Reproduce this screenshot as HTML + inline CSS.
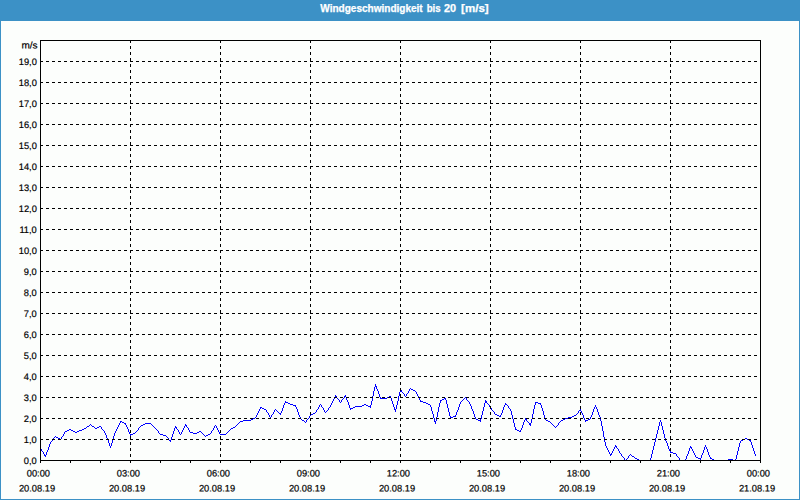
<!DOCTYPE html>
<html><head><meta charset="utf-8"><title>Windgeschwindigkeit</title>
<style>
html,body{margin:0;padding:0;background:#fcfefc;}
body{width:800px;height:500px;overflow:hidden;position:relative;font-family:"Liberation Sans",sans-serif;}
#frame{position:absolute;left:0;top:0;width:798px;height:478px;border:1px solid #3c91c6;border-top:21px solid #3c91c6;background:#fcfefc;}
svg{position:absolute;left:0;top:0;}
svg .ttl text{fill:#fff;stroke:#fff;stroke-width:0.25px;font-weight:bold;}
svg text{font-family:"Liberation Sans",sans-serif;font-size:10px;fill:#000;stroke:#000;stroke-width:0.2px;}
</style></head><body>
<div id="frame"></div>
<svg width="800" height="500" viewBox="0 0 800 500">
<path fill="#0000ff" shape-rendering="crispEdges" d="M40 448h1v1h-1zM41 449h1v2h-1zM42 451h1v1h-1zM43 452h1v2h-1zM44 454h1v2h-1zM45 455h1v2h-1zM46 452h1v3h-1zM47 450h1v2h-1zM48 447h1v3h-1zM49 444h1v3h-1zM50 442h1v2h-1zM51 441h1v1h-1zM52 440h1v1h-1zM53 438h1v2h-1zM54 437h1v1h-1zM55 436h1v1h-1zM56 437h1v1h-1zM57 437h1v1h-1zM58 438h1v1h-1zM59 438h1v1h-1zM60 439h1v1h-1zM61 437h1v2h-1zM62 436h1v1h-1zM63 434h1v2h-1zM64 432h1v2h-1zM65 431h1v1h-1zM66 431h1v1h-1zM67 430h1v1h-1zM68 430h1v1h-1zM69 429h1v1h-1zM70 429h1v1h-1zM71 430h1v1h-1zM72 430h1v1h-1zM73 431h1v1h-1zM74 431h1v1h-1zM75 432h1v1h-1zM76 432h1v1h-1zM77 431h1v1h-1zM78 431h1v1h-1zM79 430h1v1h-1zM80 430h1v1h-1zM81 430h1v1h-1zM82 429h1v1h-1zM83 429h1v1h-1zM84 428h1v1h-1zM85 428h1v1h-1zM86 427h1v1h-1zM87 426h1v1h-1zM88 426h1v1h-1zM89 425h1v1h-1zM90 424h1v1h-1zM91 425h1v1h-1zM92 426h1v1h-1zM93 426h1v1h-1zM94 427h1v1h-1zM95 428h1v1h-1zM96 428h1v1h-1zM97 427h1v1h-1zM98 427h1v1h-1zM99 426h1v1h-1zM100 426h1v1h-1zM101 427h1v2h-1zM102 429h1v1h-1zM103 430h1v1h-1zM104 431h1v2h-1zM105 433h1v2h-1zM106 435h1v3h-1zM107 438h1v2h-1zM108 440h1v3h-1zM109 443h1v3h-1zM110 446h1v2h-1zM111 443h1v3h-1zM112 440h1v3h-1zM113 436h1v4h-1zM114 433h1v3h-1zM115 431h1v2h-1zM116 429h1v2h-1zM117 427h1v2h-1zM118 425h1v2h-1zM119 423h1v2h-1zM120 421h1v2h-1zM121 421h1v1h-1zM122 422h1v1h-1zM123 422h1v1h-1zM124 423h1v1h-1zM125 423h1v2h-1zM126 425h1v2h-1zM127 427h1v2h-1zM128 429h1v3h-1zM129 432h1v2h-1zM130 434h1v2h-1zM131 434h1v1h-1zM132 434h1v1h-1zM133 433h1v1h-1zM134 433h1v1h-1zM135 432h1v1h-1zM136 431h1v1h-1zM137 430h1v1h-1zM138 428h1v2h-1zM139 427h1v1h-1zM140 426h1v1h-1zM141 425h1v1h-1zM142 425h1v1h-1zM143 424h1v1h-1zM144 424h1v1h-1zM145 423h1v1h-1zM146 423h1v1h-1zM147 423h1v1h-1zM148 423h1v1h-1zM149 423h1v1h-1zM150 423h1v1h-1zM151 424h1v1h-1zM152 425h1v1h-1zM153 426h1v1h-1zM154 427h1v1h-1zM155 428h1v1h-1zM156 429h1v1h-1zM157 430h1v1h-1zM158 431h1v2h-1zM159 433h1v1h-1zM160 434h1v1h-1zM161 434h1v1h-1zM162 434h1v1h-1zM163 435h1v1h-1zM164 435h1v1h-1zM165 435h1v1h-1zM166 436h1v1h-1zM167 437h1v1h-1zM168 438h1v2h-1zM169 440h1v1h-1zM170 440h1v2h-1zM171 437h1v3h-1zM172 434h1v3h-1zM173 431h1v3h-1zM174 428h1v3h-1zM175 426h1v2h-1zM176 427h1v2h-1zM177 429h1v1h-1zM178 430h1v2h-1zM179 432h1v2h-1zM180 434h1v1h-1zM181 432h1v2h-1zM182 430h1v2h-1zM183 428h1v2h-1zM184 426h1v2h-1zM185 424h1v2h-1zM186 425h1v2h-1zM187 427h1v1h-1zM188 428h1v2h-1zM189 430h1v2h-1zM190 432h1v1h-1zM191 432h1v1h-1zM192 432h1v1h-1zM193 433h1v1h-1zM194 433h1v1h-1zM195 433h1v1h-1zM196 433h1v1h-1zM197 432h1v1h-1zM198 432h1v1h-1zM199 431h1v1h-1zM200 431h1v1h-1zM201 432h1v1h-1zM202 433h1v1h-1zM203 434h1v1h-1zM204 435h1v1h-1zM205 436h1v1h-1zM206 435h1v1h-1zM207 435h1v1h-1zM208 434h1v1h-1zM209 434h1v1h-1zM210 433h1v1h-1zM211 431h1v2h-1zM212 430h1v1h-1zM213 428h1v2h-1zM214 426h1v2h-1zM215 425h1v1h-1zM216 426h1v2h-1zM217 428h1v2h-1zM218 430h1v2h-1zM219 432h1v2h-1zM220 434h1v1h-1zM221 434h1v1h-1zM222 434h1v1h-1zM223 434h1v1h-1zM224 434h1v1h-1zM225 434h1v1h-1zM226 433h1v1h-1zM227 432h1v1h-1zM228 431h1v1h-1zM229 430h1v1h-1zM230 429h1v1h-1zM231 428h1v1h-1zM232 428h1v1h-1zM233 427h1v1h-1zM234 427h1v1h-1zM235 426h1v1h-1zM236 425h1v1h-1zM237 424h1v1h-1zM238 423h1v1h-1zM239 422h1v1h-1zM240 421h1v1h-1zM241 421h1v1h-1zM242 421h1v1h-1zM243 420h1v1h-1zM244 420h1v1h-1zM245 420h1v1h-1zM246 420h1v1h-1zM247 420h1v1h-1zM248 420h1v1h-1zM249 420h1v1h-1zM250 420h1v1h-1zM251 419h1v1h-1zM252 419h1v1h-1zM253 418h1v1h-1zM254 418h1v1h-1zM255 417h1v1h-1zM256 415h1v2h-1zM257 413h1v2h-1zM258 411h1v2h-1zM259 409h1v2h-1zM260 407h1v2h-1zM261 407h1v1h-1zM262 408h1v1h-1zM263 408h1v1h-1zM264 409h1v1h-1zM265 409h1v1h-1zM266 410h1v2h-1zM267 412h1v1h-1zM268 413h1v2h-1zM269 415h1v2h-1zM270 417h1v1h-1zM271 415h1v2h-1zM272 414h1v1h-1zM273 412h1v2h-1zM274 410h1v2h-1zM275 409h1v1h-1zM276 410h1v1h-1zM277 411h1v1h-1zM278 412h1v1h-1zM279 413h1v1h-1zM280 413h1v2h-1zM281 411h1v2h-1zM282 408h1v3h-1zM283 405h1v3h-1zM284 403h1v2h-1zM285 401h1v2h-1zM286 402h1v1h-1zM287 402h1v1h-1zM288 403h1v1h-1zM289 403h1v1h-1zM290 404h1v1h-1zM291 404h1v1h-1zM292 404h1v1h-1zM293 405h1v1h-1zM294 405h1v1h-1zM295 405h1v2h-1zM296 407h1v2h-1zM297 409h1v3h-1zM298 412h1v3h-1zM299 415h1v2h-1zM300 417h1v2h-1zM301 419h1v1h-1zM302 420h1v1h-1zM303 420h1v1h-1zM304 421h1v1h-1zM305 422h1v1h-1zM306 420h1v2h-1zM307 419h1v1h-1zM308 418h1v1h-1zM309 416h1v2h-1zM310 415h1v1h-1zM311 414h1v1h-1zM312 414h1v1h-1zM313 413h1v1h-1zM314 413h1v1h-1zM315 412h1v1h-1zM316 410h1v2h-1zM317 409h1v1h-1zM318 407h1v2h-1zM319 405h1v2h-1zM320 404h1v1h-1zM321 405h1v2h-1zM322 407h1v1h-1zM323 408h1v2h-1zM324 410h1v2h-1zM325 412h1v1h-1zM326 411h1v1h-1zM327 410h1v1h-1zM328 408h1v2h-1zM329 407h1v1h-1zM330 405h1v2h-1zM331 403h1v2h-1zM332 401h1v2h-1zM333 399h1v2h-1zM334 397h1v2h-1zM335 395h1v2h-1zM336 396h1v2h-1zM337 398h1v1h-1zM338 399h1v1h-1zM339 400h1v2h-1zM340 402h1v1h-1zM341 400h1v2h-1zM342 399h1v1h-1zM343 398h1v1h-1zM344 396h1v2h-1zM345 395h1v2h-1zM346 397h1v3h-1zM347 400h1v2h-1zM348 402h1v3h-1zM349 405h1v3h-1zM350 408h1v2h-1zM351 408h1v1h-1zM352 408h1v1h-1zM353 407h1v1h-1zM354 407h1v1h-1zM355 406h1v1h-1zM356 406h1v1h-1zM357 406h1v1h-1zM358 406h1v1h-1zM359 406h1v1h-1zM360 406h1v1h-1zM361 406h1v1h-1zM362 405h1v1h-1zM363 405h1v1h-1zM364 404h1v1h-1zM365 404h1v1h-1zM366 405h1v1h-1zM367 405h1v1h-1zM368 406h1v1h-1zM369 406h1v1h-1zM370 405h1v3h-1zM371 401h1v4h-1zM372 396h1v5h-1zM373 391h1v5h-1zM374 387h1v4h-1zM375 384h1v3h-1zM376 386h1v3h-1zM377 389h1v2h-1zM378 391h1v3h-1zM379 394h1v3h-1zM380 397h1v2h-1zM381 398h1v1h-1zM382 398h1v1h-1zM383 398h1v1h-1zM384 398h1v1h-1zM385 398h1v1h-1zM386 398h1v1h-1zM387 397h1v1h-1zM388 397h1v1h-1zM389 396h1v1h-1zM390 396h1v2h-1zM391 398h1v3h-1zM392 401h1v3h-1zM393 404h1v3h-1zM394 407h1v3h-1zM395 409h1v3h-1zM396 405h1v4h-1zM397 401h1v4h-1zM398 396h1v5h-1zM399 392h1v4h-1zM400 389h1v3h-1zM401 390h1v2h-1zM402 392h1v1h-1zM403 393h1v1h-1zM404 394h1v2h-1zM405 396h1v1h-1zM406 394h1v2h-1zM407 393h1v1h-1zM408 391h1v2h-1zM409 389h1v2h-1zM410 388h1v1h-1zM411 389h1v1h-1zM412 389h1v1h-1zM413 390h1v1h-1zM414 390h1v1h-1zM415 391h1v1h-1zM416 392h1v2h-1zM417 394h1v2h-1zM418 396h1v2h-1zM419 398h1v2h-1zM420 400h1v2h-1zM421 401h1v1h-1zM422 401h1v1h-1zM423 402h1v1h-1zM424 402h1v1h-1zM425 402h1v1h-1zM426 403h1v1h-1zM427 403h1v1h-1zM428 404h1v1h-1zM429 404h1v1h-1zM430 405h1v2h-1zM431 407h1v4h-1zM432 411h1v3h-1zM433 414h1v4h-1zM434 418h1v4h-1zM435 421h1v3h-1zM436 417h1v4h-1zM437 412h1v5h-1zM438 407h1v5h-1zM439 403h1v4h-1zM440 400h1v3h-1zM441 400h1v1h-1zM442 399h1v1h-1zM443 399h1v1h-1zM444 398h1v1h-1zM445 398h1v2h-1zM446 400h1v4h-1zM447 404h1v4h-1zM448 408h1v4h-1zM449 412h1v4h-1zM450 416h1v2h-1zM451 417h1v1h-1zM452 417h1v1h-1zM453 416h1v1h-1zM454 416h1v1h-1zM455 415h1v2h-1zM456 412h1v3h-1zM457 410h1v2h-1zM458 407h1v3h-1zM459 404h1v3h-1zM460 402h1v2h-1zM461 401h1v1h-1zM462 400h1v1h-1zM463 399h1v1h-1zM464 398h1v1h-1zM465 397h1v1h-1zM466 398h1v2h-1zM467 400h1v1h-1zM468 401h1v1h-1zM469 402h1v2h-1zM470 404h1v2h-1zM471 406h1v3h-1zM472 409h1v2h-1zM473 411h1v3h-1zM474 414h1v3h-1zM475 417h1v2h-1zM476 419h1v1h-1zM477 419h1v1h-1zM478 420h1v1h-1zM479 420h1v1h-1zM480 419h1v3h-1zM481 415h1v4h-1zM482 411h1v4h-1zM483 407h1v4h-1zM484 403h1v4h-1zM485 400h1v3h-1zM486 401h1v2h-1zM487 403h1v1h-1zM488 404h1v1h-1zM489 405h1v2h-1zM490 407h1v1h-1zM491 408h1v2h-1zM492 410h1v1h-1zM493 411h1v1h-1zM494 412h1v2h-1zM495 414h1v1h-1zM496 414h1v1h-1zM497 415h1v1h-1zM498 415h1v1h-1zM499 416h1v1h-1zM500 415h1v2h-1zM501 413h1v2h-1zM502 410h1v3h-1zM503 407h1v3h-1zM504 405h1v2h-1zM505 403h1v2h-1zM506 404h1v1h-1zM507 405h1v1h-1zM508 406h1v2h-1zM509 408h1v1h-1zM510 409h1v2h-1zM511 411h1v4h-1zM512 415h1v4h-1zM513 419h1v4h-1zM514 423h1v4h-1zM515 427h1v3h-1zM516 429h1v1h-1zM517 430h1v1h-1zM518 430h1v1h-1zM519 431h1v1h-1zM520 430h1v2h-1zM521 428h1v2h-1zM522 425h1v3h-1zM523 422h1v3h-1zM524 420h1v2h-1zM525 418h1v2h-1zM526 419h1v2h-1zM527 421h1v1h-1zM528 422h1v1h-1zM529 423h1v2h-1zM530 423h1v3h-1zM531 419h1v4h-1zM532 414h1v5h-1zM533 409h1v5h-1zM534 405h1v4h-1zM535 402h1v3h-1zM536 402h1v1h-1zM537 402h1v1h-1zM538 403h1v1h-1zM539 403h1v1h-1zM540 403h1v2h-1zM541 405h1v3h-1zM542 408h1v3h-1zM543 411h1v4h-1zM544 415h1v3h-1zM545 418h1v2h-1zM546 420h1v1h-1zM547 420h1v1h-1zM548 421h1v1h-1zM549 421h1v1h-1zM550 422h1v1h-1zM551 423h1v1h-1zM552 424h1v1h-1zM553 425h1v1h-1zM554 426h1v1h-1zM555 427h1v1h-1zM556 426h1v1h-1zM557 425h1v1h-1zM558 423h1v2h-1zM559 422h1v1h-1zM560 421h1v1h-1zM561 420h1v1h-1zM562 420h1v1h-1zM563 419h1v1h-1zM564 419h1v1h-1zM565 418h1v1h-1zM566 418h1v1h-1zM567 418h1v1h-1zM568 417h1v1h-1zM569 417h1v1h-1zM570 417h1v1h-1zM571 417h1v1h-1zM572 416h1v1h-1zM573 416h1v1h-1zM574 415h1v1h-1zM575 415h1v1h-1zM576 414h1v1h-1zM577 413h1v1h-1zM578 411h1v2h-1zM579 410h1v1h-1zM580 409h1v2h-1zM581 411h1v2h-1zM582 413h1v2h-1zM583 415h1v3h-1zM584 418h1v2h-1zM585 420h1v2h-1zM586 420h1v1h-1zM587 420h1v1h-1zM588 419h1v1h-1zM589 419h1v1h-1zM590 417h1v2h-1zM591 415h1v2h-1zM592 412h1v3h-1zM593 409h1v3h-1zM594 407h1v2h-1zM595 405h1v2h-1zM596 407h1v2h-1zM597 409h1v3h-1zM598 412h1v3h-1zM599 415h1v2h-1zM600 417h1v4h-1zM601 421h1v5h-1zM602 426h1v5h-1zM603 431h1v6h-1zM604 437h1v5h-1zM605 442h1v4h-1zM606 446h1v2h-1zM607 448h1v2h-1zM608 450h1v2h-1zM609 452h1v2h-1zM610 454h1v2h-1zM611 453h1v2h-1zM612 451h1v2h-1zM613 449h1v2h-1zM614 447h1v2h-1zM615 445h1v2h-1zM616 446h1v2h-1zM617 448h1v1h-1zM618 449h1v2h-1zM619 451h1v2h-1zM620 453h1v1h-1zM621 454h1v2h-1zM622 456h1v1h-1zM623 457h1v1h-1zM624 458h1v2h-1zM625 460h1v1h-1zM626 459h1v1h-1zM627 458h1v1h-1zM628 456h1v2h-1zM629 455h1v1h-1zM630 454h1v1h-1zM631 455h1v1h-1zM632 456h1v1h-1zM633 456h1v1h-1zM634 457h1v1h-1zM635 458h1v1h-1zM636 458h1v1h-1zM637 459h1v1h-1zM638 459h1v1h-1zM639 460h1v1h-1zM640 460h1v1h-1zM641 460h1v1h-1zM642 460h1v1h-1zM643 460h1v1h-1zM644 460h1v1h-1zM645 460h1v1h-1zM646 460h1v1h-1zM647 460h1v1h-1zM648 460h1v1h-1zM649 460h1v1h-1zM650 458h1v3h-1zM651 454h1v4h-1zM652 450h1v4h-1zM653 446h1v4h-1zM654 442h1v4h-1zM655 438h1v4h-1zM656 434h1v4h-1zM657 430h1v4h-1zM658 426h1v4h-1zM659 422h1v4h-1zM660 420h1v2h-1zM661 422h1v4h-1zM662 426h1v4h-1zM663 430h1v4h-1zM664 434h1v4h-1zM665 438h1v3h-1zM666 441h1v2h-1zM667 443h1v3h-1zM668 446h1v3h-1zM669 449h1v2h-1zM670 451h1v2h-1zM671 452h1v1h-1zM672 452h1v1h-1zM673 453h1v1h-1zM674 453h1v1h-1zM675 453h1v1h-1zM676 454h1v2h-1zM677 456h1v1h-1zM678 457h1v1h-1zM679 458h1v2h-1zM680 460h1v1h-1zM681 460h1v1h-1zM682 460h1v1h-1zM683 460h1v1h-1zM684 460h1v1h-1zM685 459h1v2h-1zM686 456h1v3h-1zM687 454h1v2h-1zM688 451h1v3h-1zM689 448h1v3h-1zM690 446h1v2h-1zM691 447h1v2h-1zM692 449h1v2h-1zM693 451h1v2h-1zM694 453h1v2h-1zM695 455h1v2h-1zM696 457h1v1h-1zM697 457h1v1h-1zM698 458h1v1h-1zM699 458h1v1h-1zM700 458h1v2h-1zM701 455h1v3h-1zM702 453h1v2h-1zM703 450h1v3h-1zM704 447h1v3h-1zM705 445h1v2h-1zM706 447h1v2h-1zM707 449h1v3h-1zM708 452h1v3h-1zM709 455h1v2h-1zM710 457h1v2h-1zM711 458h1v1h-1zM712 459h1v1h-1zM713 459h1v1h-1zM714 460h1v1h-1zM715 460h1v1h-1zM716 460h1v1h-1zM717 460h1v1h-1zM718 460h1v1h-1zM719 460h1v1h-1zM720 460h1v1h-1zM721 460h1v1h-1zM722 460h1v1h-1zM723 460h1v1h-1zM724 460h1v1h-1zM725 460h1v1h-1zM726 460h1v1h-1zM727 460h1v1h-1zM728 459h1v1h-1zM729 459h1v1h-1zM730 459h1v1h-1zM731 459h1v1h-1zM732 459h1v1h-1zM733 460h1v1h-1zM734 460h1v1h-1zM735 459h1v2h-1zM736 455h1v4h-1zM737 451h1v4h-1zM738 447h1v4h-1zM739 443h1v4h-1zM740 441h1v2h-1zM741 440h1v1h-1zM742 440h1v1h-1zM743 439h1v1h-1zM744 439h1v1h-1zM745 438h1v1h-1zM746 438h1v1h-1zM747 439h1v1h-1zM748 439h1v1h-1zM749 440h1v1h-1zM750 440h1v2h-1zM751 442h1v3h-1zM752 445h1v3h-1zM753 448h1v3h-1zM754 451h1v3h-1zM755 454h1v2h-1z"/>
<g stroke="#000" stroke-width="1" stroke-dasharray="3,3" shape-rendering="crispEdges" fill="none">
<line x1="40" y1="439.5" x2="760" y2="439.5"/>
<line x1="40" y1="418.5" x2="760" y2="418.5"/>
<line x1="40" y1="397.5" x2="760" y2="397.5"/>
<line x1="40" y1="376.5" x2="760" y2="376.5"/>
<line x1="40" y1="355.5" x2="760" y2="355.5"/>
<line x1="40" y1="334.5" x2="760" y2="334.5"/>
<line x1="40" y1="313.5" x2="760" y2="313.5"/>
<line x1="40" y1="292.5" x2="760" y2="292.5"/>
<line x1="40" y1="271.5" x2="760" y2="271.5"/>
<line x1="40" y1="250.5" x2="760" y2="250.5"/>
<line x1="40" y1="229.5" x2="760" y2="229.5"/>
<line x1="40" y1="208.5" x2="760" y2="208.5"/>
<line x1="40" y1="187.5" x2="760" y2="187.5"/>
<line x1="40" y1="166.5" x2="760" y2="166.5"/>
<line x1="40" y1="145.5" x2="760" y2="145.5"/>
<line x1="40" y1="124.5" x2="760" y2="124.5"/>
<line x1="40" y1="103.5" x2="760" y2="103.5"/>
<line x1="40" y1="82.5" x2="760" y2="82.5"/>
<line x1="40" y1="61.5" x2="760" y2="61.5"/>
<line x1="130.5" y1="40" x2="130.5" y2="460"/>
<line x1="220.5" y1="40" x2="220.5" y2="460"/>
<line x1="310.5" y1="40" x2="310.5" y2="460"/>
<line x1="400.5" y1="40" x2="400.5" y2="460"/>
<line x1="490.5" y1="40" x2="490.5" y2="460"/>
<line x1="580.5" y1="40" x2="580.5" y2="460"/>
<line x1="670.5" y1="40" x2="670.5" y2="460"/>
</g>
<rect x="40.5" y="40.5" width="720" height="420" fill="none" stroke="#000" stroke-width="1" shape-rendering="crispEdges"/>
<g fill="#000" shape-rendering="crispEdges">
<rect x="40" y="460" width="1" height="3"/>
<rect x="70" y="460" width="1" height="3"/>
<rect x="100" y="460" width="1" height="3"/>
<rect x="130" y="460" width="1" height="3"/>
<rect x="160" y="460" width="1" height="3"/>
<rect x="190" y="460" width="1" height="3"/>
<rect x="220" y="460" width="1" height="3"/>
<rect x="250" y="460" width="1" height="3"/>
<rect x="280" y="460" width="1" height="3"/>
<rect x="310" y="460" width="1" height="3"/>
<rect x="340" y="460" width="1" height="3"/>
<rect x="370" y="460" width="1" height="3"/>
<rect x="400" y="460" width="1" height="3"/>
<rect x="430" y="460" width="1" height="3"/>
<rect x="460" y="460" width="1" height="3"/>
<rect x="490" y="460" width="1" height="3"/>
<rect x="520" y="460" width="1" height="3"/>
<rect x="550" y="460" width="1" height="3"/>
<rect x="580" y="460" width="1" height="3"/>
<rect x="610" y="460" width="1" height="3"/>
<rect x="640" y="460" width="1" height="3"/>
<rect x="670" y="460" width="1" height="3"/>
<rect x="700" y="460" width="1" height="3"/>
<rect x="730" y="460" width="1" height="3"/>
<rect x="760" y="460" width="1" height="3"/>
</g>
<g font-weight="bold" style="font-size:10px" class="ttl">
<text x="320.3" y="12" textLength="102.4" lengthAdjust="spacingAndGlyphs">Windgeschwindigkeit</text>
<text x="426.7" y="12" textLength="13.9" lengthAdjust="spacingAndGlyphs">bis</text>
<text x="443.9" y="12" textLength="12.1" lengthAdjust="spacingAndGlyphs">20</text>
<text x="461.1" y="12" textLength="27.6" lengthAdjust="spacingAndGlyphs">[m/s]</text>
</g>
<g>
<text transform="translate(36.8,463.9) scale(0.93,0.94) rotate(0.05)" text-anchor="end">0,0</text>
<text transform="translate(36.8,442.9) scale(0.93,0.94) rotate(0.05)" text-anchor="end">1,0</text>
<text transform="translate(36.8,421.9) scale(0.93,0.94) rotate(0.05)" text-anchor="end">2,0</text>
<text transform="translate(36.8,400.9) scale(0.93,0.94) rotate(0.05)" text-anchor="end">3,0</text>
<text transform="translate(36.8,379.9) scale(0.93,0.94) rotate(0.05)" text-anchor="end">4,0</text>
<text transform="translate(36.8,358.9) scale(0.93,0.94) rotate(0.05)" text-anchor="end">5,0</text>
<text transform="translate(36.8,337.9) scale(0.93,0.94) rotate(0.05)" text-anchor="end">6,0</text>
<text transform="translate(36.8,316.9) scale(0.93,0.94) rotate(0.05)" text-anchor="end">7,0</text>
<text transform="translate(36.8,295.9) scale(0.93,0.94) rotate(0.05)" text-anchor="end">8,0</text>
<text transform="translate(36.8,274.9) scale(0.93,0.94) rotate(0.05)" text-anchor="end">9,0</text>
<text transform="translate(36.8,253.9) scale(0.93,0.94) rotate(0.05)" text-anchor="end">10,0</text>
<text transform="translate(36.8,232.9) scale(0.93,0.94) rotate(0.05)" text-anchor="end">11,0</text>
<text transform="translate(36.8,211.9) scale(0.93,0.94) rotate(0.05)" text-anchor="end">12,0</text>
<text transform="translate(36.8,190.9) scale(0.93,0.94) rotate(0.05)" text-anchor="end">13,0</text>
<text transform="translate(36.8,169.9) scale(0.93,0.94) rotate(0.05)" text-anchor="end">14,0</text>
<text transform="translate(36.8,148.9) scale(0.93,0.94) rotate(0.05)" text-anchor="end">15,0</text>
<text transform="translate(36.8,127.9) scale(0.93,0.94) rotate(0.05)" text-anchor="end">16,0</text>
<text transform="translate(36.8,106.9) scale(0.93,0.94) rotate(0.05)" text-anchor="end">17,0</text>
<text transform="translate(36.8,85.9) scale(0.93,0.94) rotate(0.05)" text-anchor="end">18,0</text>
<text transform="translate(36.8,64.9) scale(0.93,0.94) rotate(0.05)" text-anchor="end">19,0</text>
<text transform="translate(37.6,48.4) scale(1,0.96) rotate(0.05)" text-anchor="end">m/s</text>
<text transform="translate(38.4,476.6) scale(0.93,0.94) rotate(0.05)" text-anchor="middle">00:00</text>
<text transform="translate(37,491.6) scale(0.93,0.94) rotate(0.05)" text-anchor="middle">20.08.19</text>
<text transform="translate(128.4,476.6) scale(0.93,0.94) rotate(0.05)" text-anchor="middle">03:00</text>
<text transform="translate(127,491.6) scale(0.93,0.94) rotate(0.05)" text-anchor="middle">20.08.19</text>
<text transform="translate(218.4,476.6) scale(0.93,0.94) rotate(0.05)" text-anchor="middle">06:00</text>
<text transform="translate(217,491.6) scale(0.93,0.94) rotate(0.05)" text-anchor="middle">20.08.19</text>
<text transform="translate(308.4,476.6) scale(0.93,0.94) rotate(0.05)" text-anchor="middle">09:00</text>
<text transform="translate(307,491.6) scale(0.93,0.94) rotate(0.05)" text-anchor="middle">20.08.19</text>
<text transform="translate(398.4,476.6) scale(0.93,0.94) rotate(0.05)" text-anchor="middle">12:00</text>
<text transform="translate(397,491.6) scale(0.93,0.94) rotate(0.05)" text-anchor="middle">20.08.19</text>
<text transform="translate(488.4,476.6) scale(0.93,0.94) rotate(0.05)" text-anchor="middle">15:00</text>
<text transform="translate(487,491.6) scale(0.93,0.94) rotate(0.05)" text-anchor="middle">20.08.19</text>
<text transform="translate(578.4,476.6) scale(0.93,0.94) rotate(0.05)" text-anchor="middle">18:00</text>
<text transform="translate(577,491.6) scale(0.93,0.94) rotate(0.05)" text-anchor="middle">20.08.19</text>
<text transform="translate(668.4,476.6) scale(0.93,0.94) rotate(0.05)" text-anchor="middle">21:00</text>
<text transform="translate(667,491.6) scale(0.93,0.94) rotate(0.05)" text-anchor="middle">20.08.19</text>
<text transform="translate(758.4,476.6) scale(0.93,0.94) rotate(0.05)" text-anchor="middle">00:00</text>
<text transform="translate(757,491.6) scale(0.93,0.94) rotate(0.05)" text-anchor="middle">21.08.19</text>
</g>
</svg>
</body></html>
